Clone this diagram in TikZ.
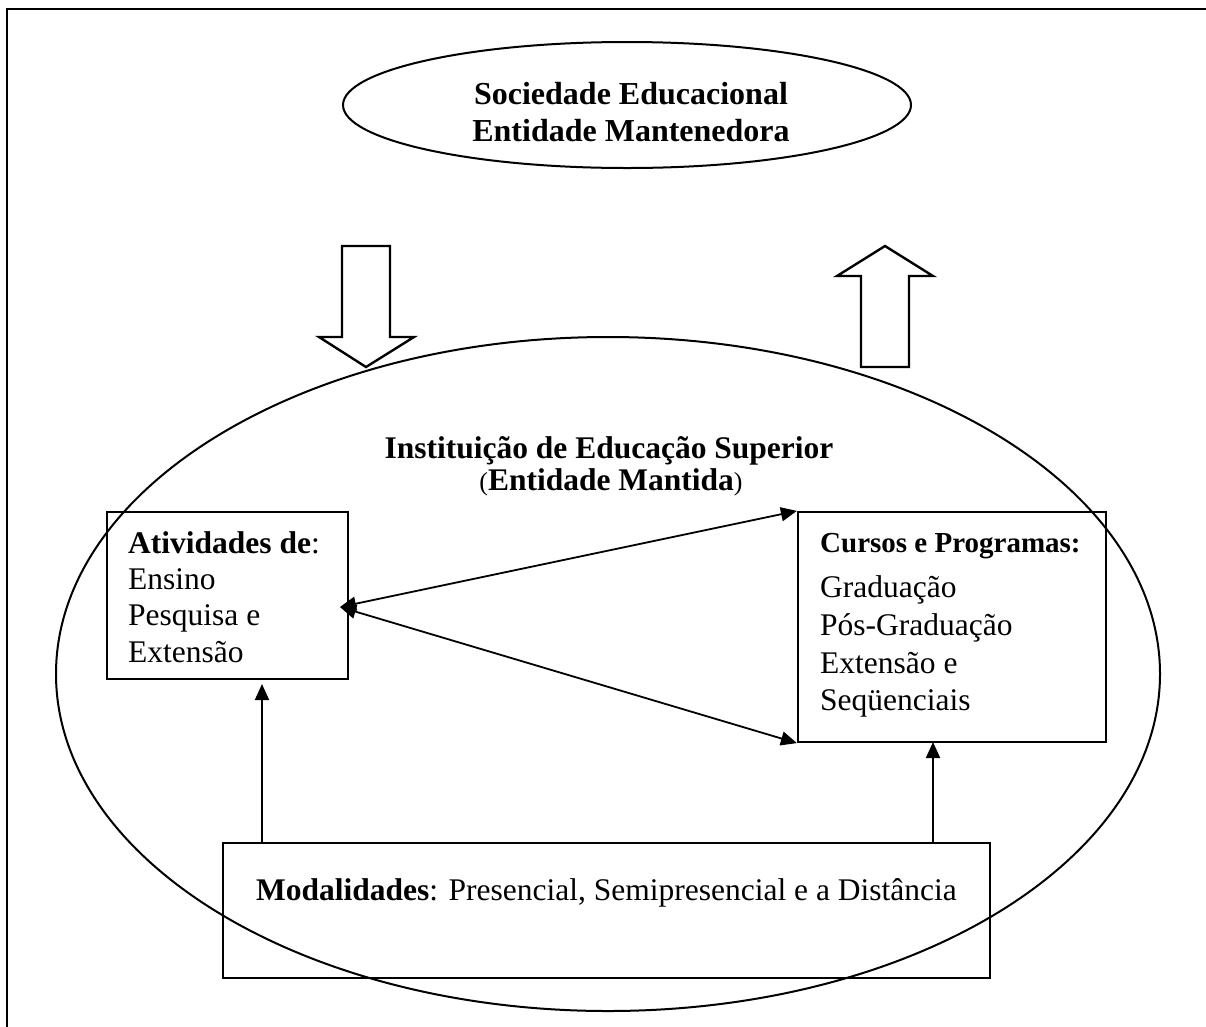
\documentclass[tikz,border=0pt]{standalone}
\usepackage{fontspec}
\setmainfont{Liberation Serif}
\usetikzlibrary{shapes.geometric,arrows.meta}

\tikzset{
  frameline/.style={line width=2.6pt, line cap=rect},
  oval/.style={draw, ellipse, line width=2pt, inner sep=0pt},
  panel/.style={draw, rectangle, line width=2.2pt, inner sep=0pt},
  blockarrow/.style={draw, line width=2.4pt, line join=miter},
  tip/.style={Triangle[length=16pt,width=14pt]},
  link/.style={line width=1.8pt, -{Triangle[length=16pt,width=14pt]}},
  twoway/.style={line width=1.8pt, {Triangle[length=16pt,width=14pt]}-{Triangle[length=16pt,width=14pt]}},
  txt/.style={inner sep=0pt, anchor=base},
  txtl/.style={inner sep=0pt, anchor=base west},
  bigfont/.style={font=\fontsize{32}{37}\selectfont\bfseries},
  bodyfont/.style={font=\fontsize{31.5}{36}\selectfont},
  headfont/.style={font=\fontsize{29}{34}\selectfont\bfseries},
}

\begin{document}
\begin{tikzpicture}[x=1pt, y=-1pt]
  \useasboundingbox (0,0) rectangle (1206,1026);

  % open frame: left and top edges
  \draw[frameline] (7,1030) -- (7,9) -- (1210,9);

  % maintaining body
  \node[oval, minimum width=568pt, minimum height=126pt] (soc) at (627,105) {};
  \node[txt, bigfont] (socA) at (631,104) {Sociedade Educacional};
  \node[txt, bigfont] (socB) at (631,141) {Entidade Mantenedora};

  % block arrows between the two bodies
  \draw[blockarrow] (342,246) -- (390,246) -- (390,337) -- (414,337) -- (366,367)
    -- (319,337) -- (342,337) -- cycle;
  \draw[blockarrow] (885,246) -- (933,276) -- (909,276) -- (909,367) -- (861,367)
    -- (861,276) -- (837,276) -- cycle;

  % maintained institution
  \node[oval, minimum width=1104pt, minimum height=674pt] (ies) at (608,674) {};
  \node[txt, font=\fontsize{31.5}{36}\selectfont\bfseries] (iesA) at (609,458)
    {Instituição de Educação Superior};
  \node[txt, font=\fontsize{31.5}{36}\selectfont\bfseries] (iesB) at (611,490)
    {{\mdseries\fontsize{26}{30}\selectfont(}Entidade Mantida{\mdseries\fontsize{26}{30}\selectfont)}};

  % activities box
  \node[panel, minimum width=241pt, minimum height=167pt] (ativ) at (227.5,595.5) {};
  \node[txtl, bodyfont] (ativA) at (128,553) {\textbf{Atividades de}:};
  \node[txtl, bodyfont] (ativB) at (128,589) {Ensino};
  \node[txtl, bodyfont] (ativC) at (128,625) {Pesquisa e};
  \node[txtl, bodyfont] (ativD) at (128,662) {Extensão};

  % courses box
  \node[panel, minimum width=308pt, minimum height=230pt] (curs) at (952,627) {};
  \node[txtl, headfont] (cursA) at (820,552) {Cursos e Programas:};
  \node[txtl, bodyfont] (cursB) at (820,597) {Graduação};
  \node[txtl, bodyfont] (cursC) at (820,635) {Pós-Graduação};
  \node[txtl, bodyfont] (cursD) at (820,673) {Extensão e};
  \node[txtl, bodyfont] (cursE) at (820,710) {Seqüenciais};

  % modalities box
  \node[panel, minimum width=767pt, minimum height=135pt] (mod) at (606.5,910.5) {};
  \node[txt, bodyfont] (modA) at (606.5,900)
    {\textbf{Modalidades}: Presencial, Semipresencial e a Distância};

  % connector end points
  \coordinate (ativTip) at (340,607);
  \coordinate (modL) at (262,843);
  \coordinate (ativIn) at (262,684);
  \coordinate (modR) at (933,843);
  \coordinate (cursIn) at (933,742);

  % connectors
  \draw[twoway] (ativTip) -- (curs.north west);
  \draw[twoway] (ativTip) -- (curs.south west);
  \draw[link] (modL) -- (ativIn);
  \draw[link] (modR) -- (cursIn);
\end{tikzpicture}
\end{document}
